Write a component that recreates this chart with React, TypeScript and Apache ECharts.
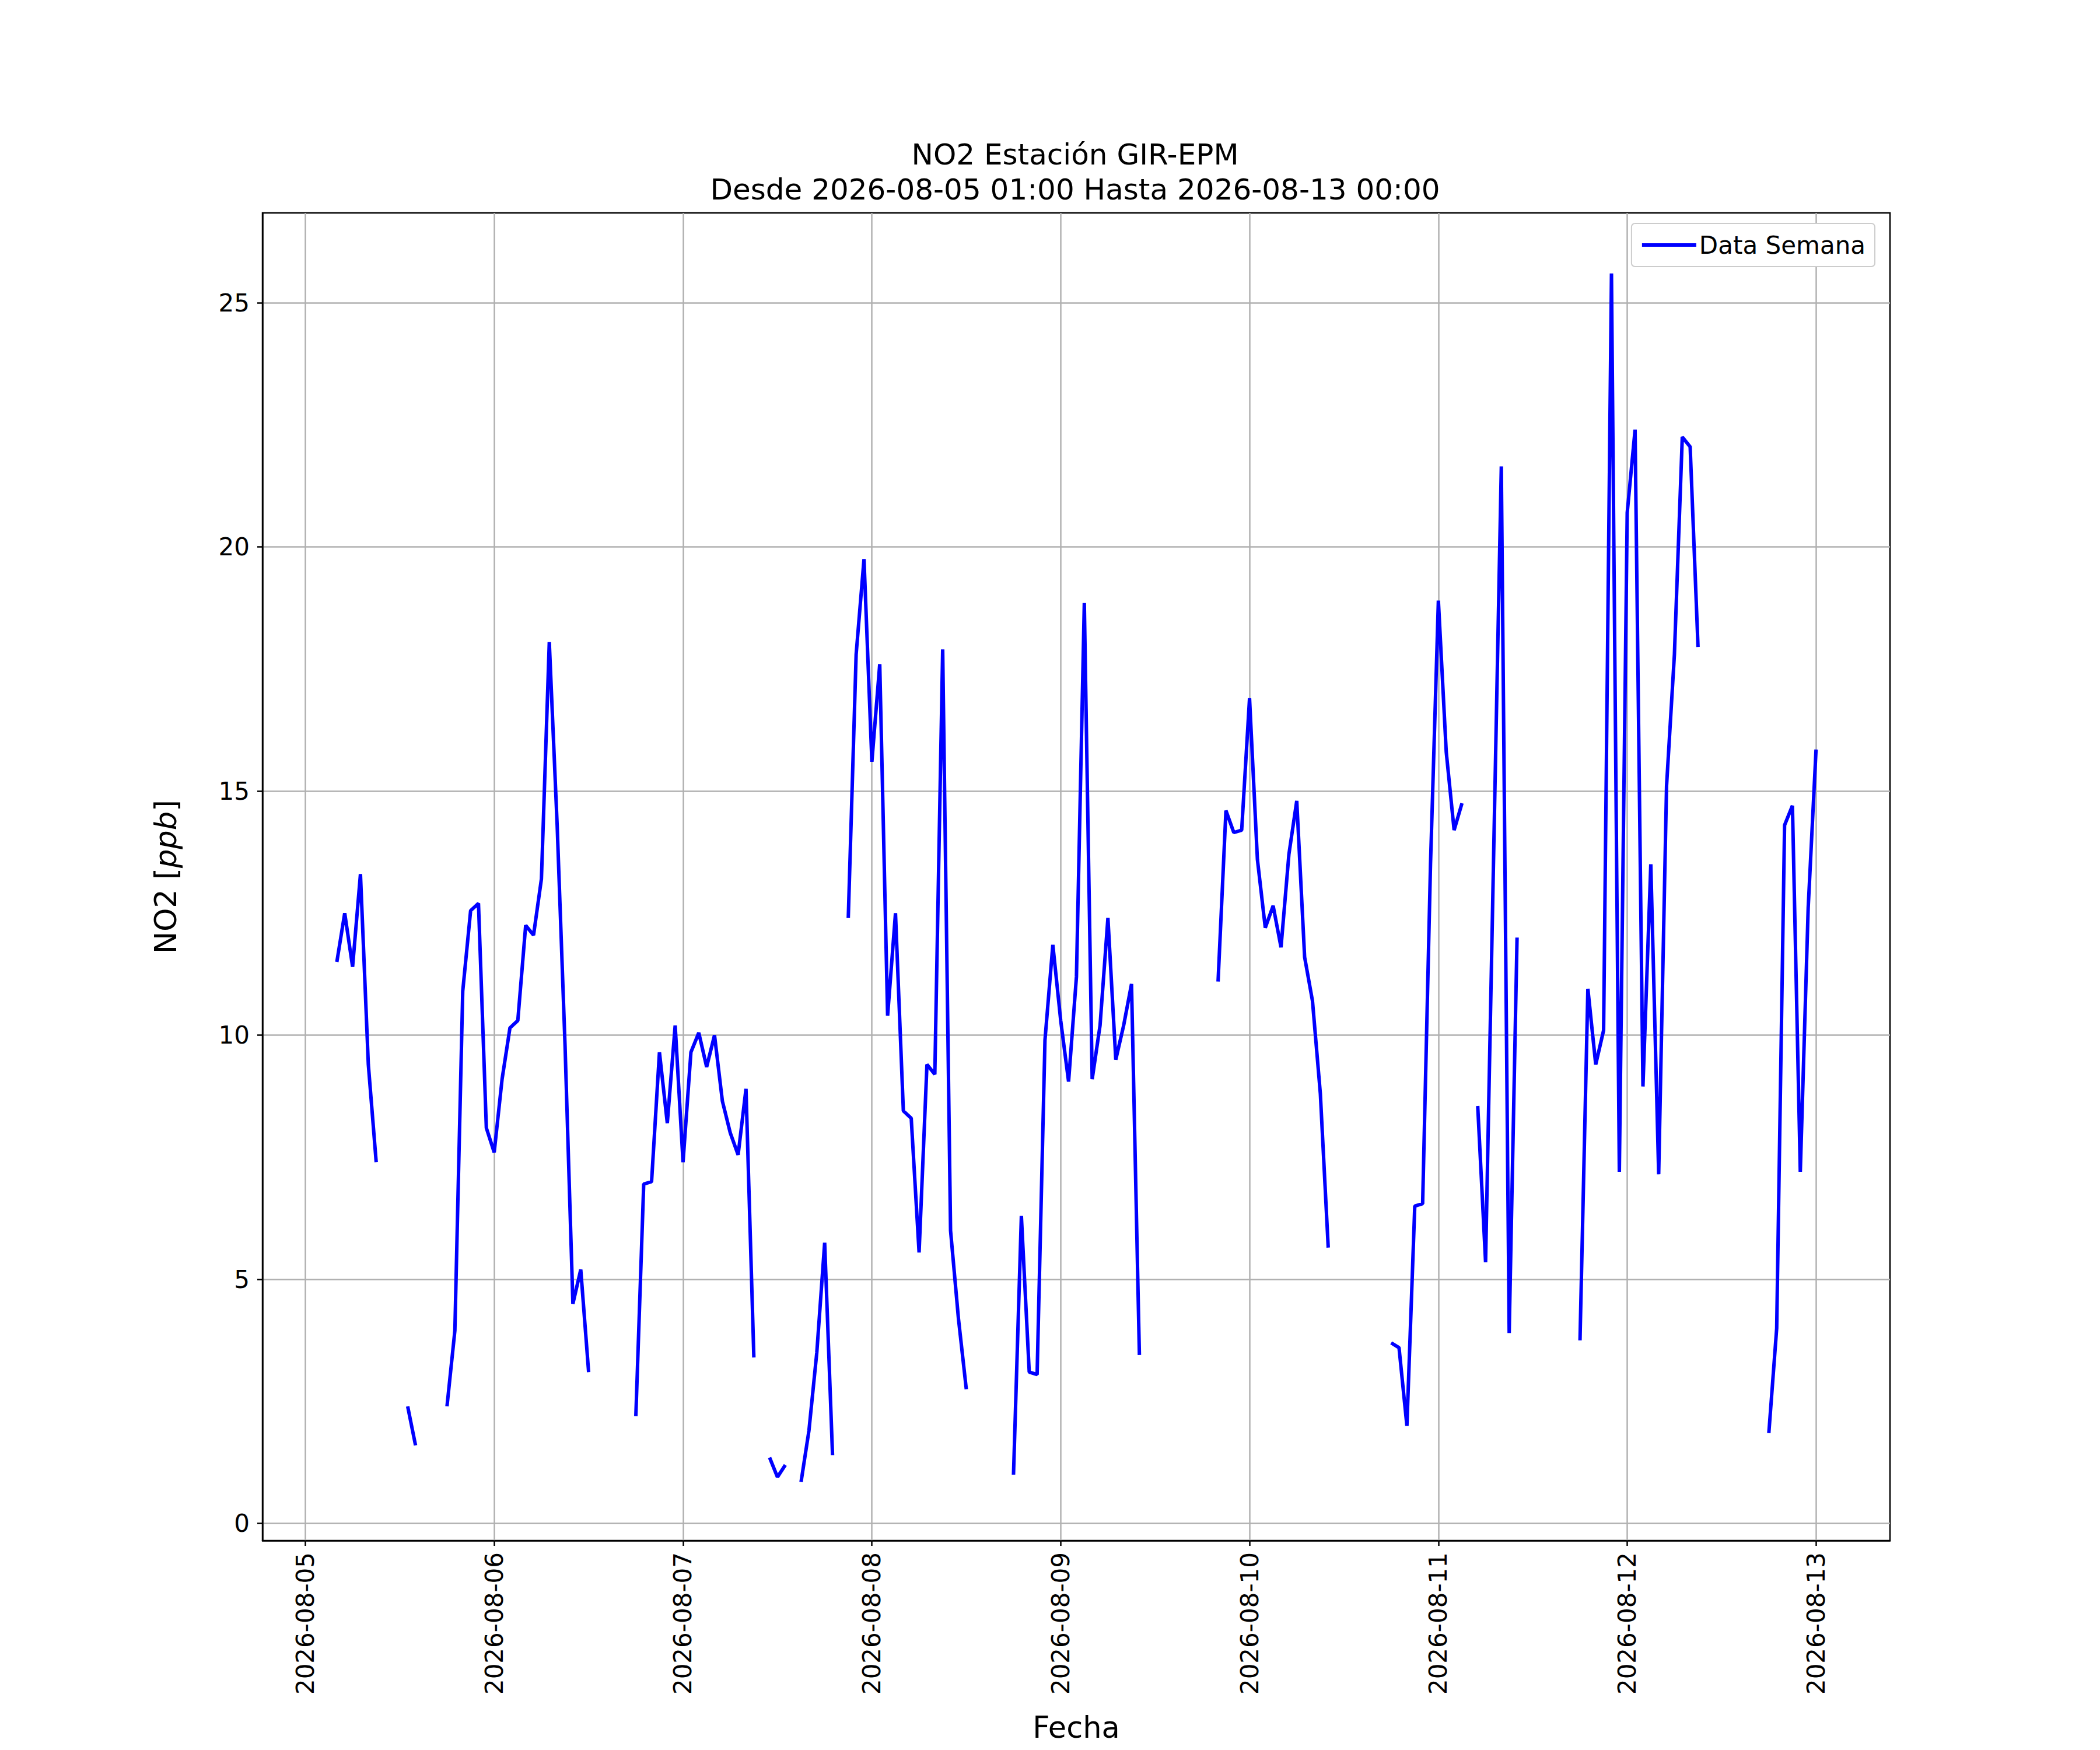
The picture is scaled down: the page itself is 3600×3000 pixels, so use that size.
import { useEffect, useRef } from 'react';
import * as echarts from 'echarts';

// hours counted from 2026-08-05 00:00, each segment is consecutive hourly values
const seg1Start = 4;
const seg1 = [11.5, 12.5, 11.4, 13.3, 9.4, 7.4];
const seg2Start = 13;
const seg2 = [2.4, 1.6];
const seg3Start = 18;
const seg3 = [2.4, 3.95, 10.9, 12.55, 12.7, 8.1, 7.6, 9.1, 10.15, 10.3, 12.25, 12.05, 13.2, 18.05, 14.3, 9.8, 4.5, 5.2, 3.1];
const seg4Start = 42;
const seg4 = [2.2, 6.95, 7.0, 9.65, 8.2, 10.2, 7.4, 9.65, 10.05, 9.35, 10.0, 8.65, 8.0, 7.55, 8.9, 3.4];
const seg5Start = 59;
const seg5 = [1.35, 0.95, 1.2];
const seg6Start = 63;
const seg6 = [0.85, 1.9, 3.5, 5.75, 1.4];
const seg7Start = 69;
const seg7 = [12.4, 17.8, 19.75, 15.6, 17.6, 10.4, 12.5, 8.45, 8.3, 5.55, 9.4, 9.2, 17.9, 6.0, 4.2, 2.75];
const seg8Start = 90;
const seg8 = [1.0, 6.3, 3.1, 3.05, 9.9, 11.85, 10.3, 9.05, 11.2, 18.85, 9.1, 10.2, 12.4, 9.5, 10.2, 11.05, 3.45];
const seg9Start = 116;
const seg9 = [11.1, 14.6, 14.15, 14.2, 16.9, 13.6, 12.2, 12.65, 11.8, 13.7, 14.8, 11.6, 10.7, 8.8, 5.65];
const seg10Start = 138;
const seg10 = [3.7, 3.6, 2.0, 6.5, 6.55, 13.5, 18.9, 15.8, 14.2, 14.75];
const seg11Start = 149;
const seg11 = [8.55, 5.35, 13.5, 21.65, 3.9, 12.0];
const seg12Start = 162;
const seg12 = [3.75, 10.95, 9.4, 10.1, 25.6, 7.2, 20.7, 22.4, 8.95, 13.5, 7.15, 15.1, 17.8, 22.25, 22.05, 17.95];
const seg13Start = 186;
const seg13 = [1.85, 4.0, 14.3, 14.7, 7.2, 12.6, 15.85];

const dayTicks = [0, 24, 48, 72, 96, 120, 144, 168, 192];
const dayLabels = ['2026-08-05', '2026-08-06', '2026-08-07', '2026-08-08', '2026-08-09', '2026-08-10', '2026-08-11', '2026-08-12', '2026-08-13'];
const yTicks = [0, 5, 10, 15, 20, 25];

const segments: [number, number[]][] = [
    [seg1Start, seg1], [seg2Start, seg2], [seg3Start, seg3], [seg4Start, seg4],
    [seg5Start, seg5], [seg6Start, seg6], [seg7Start, seg7], [seg8Start, seg8],
    [seg9Start, seg9], [seg10Start, seg10], [seg11Start, seg11], [seg12Start, seg12],
    [seg13Start, seg13],
];

function buildSeries() {
    const out: (number | null)[][] = [];
    segments.forEach(([start, vals], i) => {
        if (i > 0) out.push([start - 0.5, null]);
        vals.forEach((v, k) => out.push([start + k, v]));
    });
    return out;
}

const font = 'DejaVu Sans';

export default function App() {
    const chartRef = useRef<HTMLDivElement>(null);

    useEffect(() => {
        if (!chartRef.current) return;
        const chart = echarts.init(chartRef.current, null, { renderer: 'svg' });

        chart.setOption({
            animation: false,
            backgroundColor: '#ffffff',
            textStyle: { fontFamily: font },
            title: {
                text: 'NO2 Estación GIR-EPM\nDesde 2026-08-05 01:00 Hasta 2026-08-13 00:00',
                left: 1830,
                top: 222,
                textAlign: 'center',
                textStyle: { fontFamily: font, fontSize: 50, fontWeight: 'normal', color: '#000', lineHeight: 60 },
            },
            legend: {
                right: 378,
                top: 375,
                itemWidth: 93,
                itemHeight: 6,
                itemGap: 10,
                padding: [16, 16, 16, 18],
                borderColor: '#cccccc',
                borderWidth: 2,
                borderRadius: 6,
                backgroundColor: '#ffffff',
                textStyle: { fontFamily: font, fontSize: 42, color: '#000' },
                data: [{ name: 'Data Semana', icon: 'rect' }],
            },
            grid: {
                left: 442,
                right: 352,
                top: 357,
                bottom: 312,
                show: true,
                borderColor: '#000',
                borderWidth: 2.5,
                backgroundColor: 'transparent',
            },
            xAxis: {
                type: 'value',
                min: -5.45,
                max: 201.4,
                name: 'Fecha',
                nameLocation: 'middle',
                nameGap: 295,
                nameTextStyle: { fontFamily: font, fontSize: 51, color: '#000' },
                axisLine: { show: true, onZero: false, lineStyle: { color: '#000', width: 2.5 } },
                axisTick: { show: true, customValues: dayTicks, length: 9, lineStyle: { color: '#000', width: 2.5 } },
                axisLabel: {
                    customValues: dayTicks,
                    rotate: 90,
                    margin: 20,
                    fontFamily: font,
                    fontSize: 42,
                    color: '#000',
                    formatter: (v: number) => dayLabels[dayTicks.indexOf(Math.round(v))] ?? '',
                },
                splitLine: { show: true, lineStyle: { color: '#b0b0b0', width: 2.5 } },
            },
            yAxis: {
                type: 'value',
                min: -0.35,
                max: 26.84,
                name: 'NO2 [{i|ppb}]',
                nameLocation: 'middle',
                nameGap: 140,
                nameRotate: 90,
                nameTextStyle: {
                    fontFamily: font, fontSize: 51, color: '#000',
                    rich: { i: { fontFamily: font, fontSize: 51, fontStyle: 'italic', color: '#000' } },
                },
                axisLine: { show: true, onZero: false, lineStyle: { color: '#000', width: 2.5 } },
                axisTick: { show: true, customValues: yTicks, length: 9, lineStyle: { color: '#000', width: 2.5 } },
                axisLabel: { customValues: yTicks, margin: 22, fontFamily: font, fontSize: 42, color: '#000' },
                splitLine: { show: true, lineStyle: { color: '#b0b0b0', width: 2.5 } },
            },
            series: [
                {
                    name: 'Data Semana',
                    type: 'line',
                    data: buildSeries(),
                    showSymbol: false,
                    connectNulls: false,
                    color: '#0000ff',
                    lineStyle: { color: '#0000ff', width: 6 },
                },
            ],
        });

        return () => chart.dispose();
    }, []);

    return <div ref={chartRef} style={{ width: 3584, height: 2984 }} />;
}
